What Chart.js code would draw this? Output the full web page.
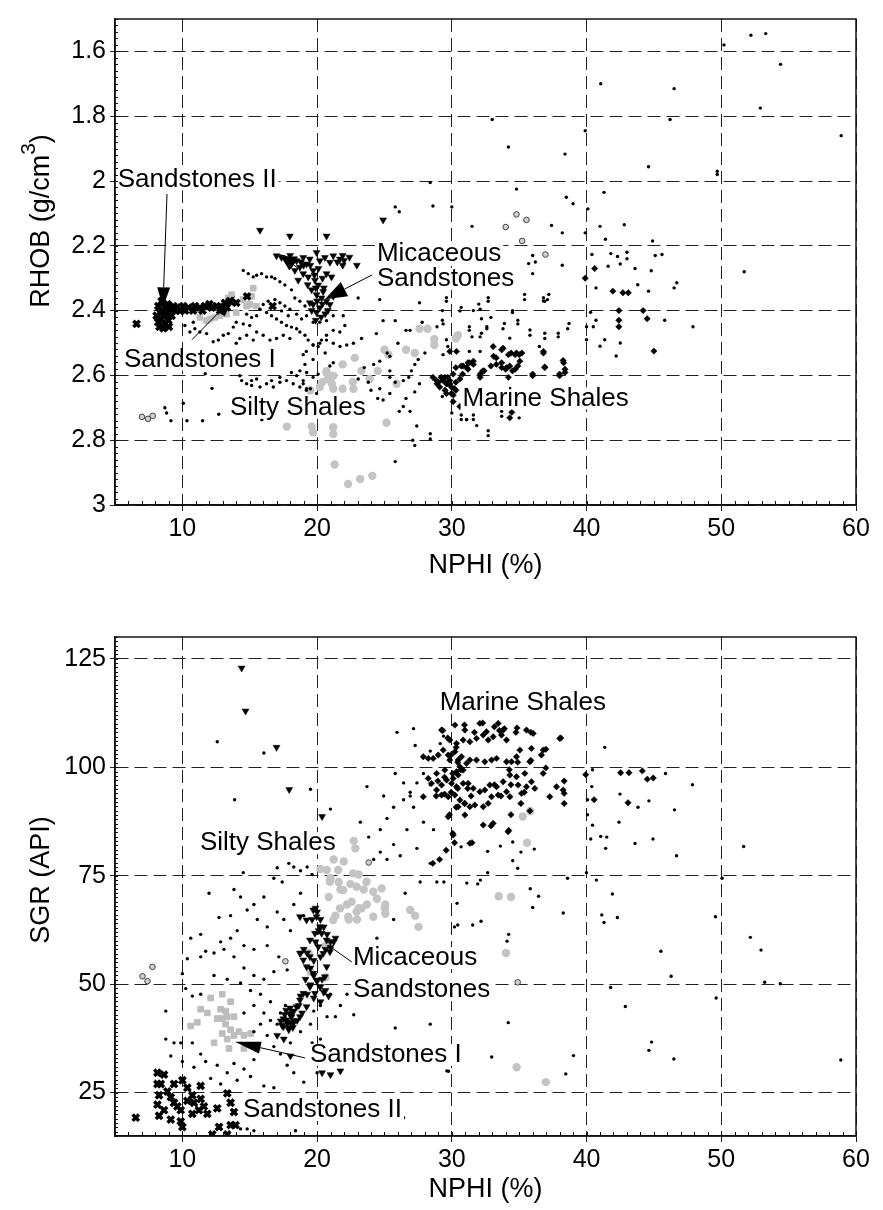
<!DOCTYPE html>
<html>
<head>
<meta charset="utf-8">
<script src="https://cdn.jsdelivr.net/npm/chart.js@4.4.0/dist/chart.umd.min.js"></script>
<style>
html, body { margin: 0; padding: 0; background: #fff; }
.wrap { position: absolute; left: 0; width: 883px; height: 600px; }
#w1 { top: 0; }
#w2 { top: 610px; }
</style>
</head>
<body>
<div class="wrap" id="w1"><canvas id="c1" width="883" height="600"></canvas></div>
<div class="wrap" id="w2"><canvas id="c2" width="883" height="600"></canvas></div>
<script>
// ---- axis ticks ----
const xTickVals = [10, 20, 30, 40, 50, 60];
const rhobTickVals = [1.6, 1.8, 2, 2.2, 2.4, 2.6, 2.8, 3];
const sgrTickVals = [25, 50, 75, 100, 125];

// ---- top panel: NPHI (%) vs RHOB (g/cm3) ----
const topDots = [
  [50.2,1.58],[52.2,1.55],[53.3,1.545],[54.4,1.64],[52.9,1.775],[58.9,1.86],[41.05,1.70],[46.5,1.715],[46.2,1.81],[33.0,1.81],
  [34.2,1.895],[39.9,1.845],[38.4,1.917],[44.6,1.956],[49.7,1.97],[49.7,1.98],[34.8,2.025],[38.5,2.05],[39.0,2.07],[40.1,2.086],
  [41.3,2.035],[30.0,2.08],[28.6,2.077],[28.4,2.005],[25.8,2.08],[26.1,2.095],[31.5,2.14],[37.4,2.137],[38.2,2.16],[39.9,2.16],
  [41.0,2.14],[42.8,2.135],[41.4,2.18],[44.9,2.185],[40.4,2.227],[41.8,2.224],[42.3,2.233],[43.0,2.22],[45.1,2.23],[45.6,2.227],
  [43.0,2.24],[42.5,2.256],[41.6,2.263],[43.6,2.27],[38.2,2.26],[44.8,2.277],[36.0,2.286],[35.7,2.255],[36.2,2.25],[36.0,2.23],
  [40.7,2.33],[44.6,2.34],[43.8,2.32],[46.7,2.314],[46.5,2.33],[51.7,2.28],[45.8,2.43],[47.9,2.45],[40.3,2.405],[40.7,2.43],
  [40.5,2.45],[40.0,2.45],[40.0,2.49],[41.0,2.51],[41.35,2.49],[42.2,2.54],[42.5,2.50],[38.7,2.44],[37.9,2.47],[36.9,2.47],
  [35.8,2.46],[34.9,2.43],[34.5,2.40],[35.4,2.35],[36.8,2.36],[37.2,2.35],[36.8,2.37],[33.9,2.44],[34.3,2.485],[32.7,2.36],
  [32.0,2.38],[30.7,2.39],[29.6,2.36],[31.6,2.40],[32.2,2.425],[32.6,2.45],[32.2,2.47],[31.3,2.45],[29.3,2.43],[29.3,2.40],
  [28.9,2.45],[29.6,2.49],[29.3,2.665],[30.0,2.716],[30.7,2.722],[31.1,2.737],[31.6,2.722],[31.85,2.755],[32.7,2.771],[33.7,2.711],
  [35.0,2.731],[23.05,2.361],[24.65,2.366],[27.6,2.376],[29.6,2.371],[32.7,2.371],[35.4,2.366],[36.9,2.371],[37.1,2.366],[30.6,2.401],
  [32.1,2.396],[32.9,2.421],[34.5,2.406],[24.9,2.431],[25.8,2.431],[26.6,2.461],[26.9,2.461],[27.8,2.436],[29.35,2.441],[31.3,2.461],
  [31.5,2.481],[32.1,2.481],[32.6,2.456],[33.8,2.456],[34.9,2.441],[35.8,2.476],[36.9,2.486],[37.9,2.481],[38.6,2.456],[24.4,2.471],
  [23.3,2.486],[22.7,2.501],[22.2,2.506],[21.7,2.511],[21.2,2.501],[20.7,2.491],[20.2,2.501],[19.7,2.506],[19.2,2.526],[18.97,2.536],
  [29.7,2.511],[29.35,2.536],[30.3,2.526],[31.3,2.526],[32.1,2.526],[36.5,2.511],[28.0,2.531],[27.5,2.551],[27.25,2.566],[27.0,2.586],
  [26.8,2.606],[26.4,2.616],[25.4,2.586],[25.4,2.606],[25.8,2.621],[27.6,2.626],[27.25,2.651],[26.6,2.671],[26.4,2.696],[26.1,2.711],
  [26.9,2.711],[27.4,2.756],[28.4,2.796],[27.25,2.816],[31.1,2.736],[30.7,2.736],[31.6,2.736],[32.7,2.786],[33.7,2.726],[25.4,2.656],
  [24.9,2.676],[24.5,2.671],[24.65,2.641],[24.0,2.646],[23.8,2.621],[23.05,2.611],[23.5,2.576],[24.2,2.566],[24.65,2.556],[25.4,2.541],
  [25.2,2.531],[26.0,2.501],[20.95,2.571],[21.2,2.561],[19.1,2.566],[19.7,2.551],[20.6,2.531],[18.97,2.626],[19.5,2.641],[19.96,2.656],
  [19.2,2.646],[14.52,2.276],[14.89,2.286],[15.26,2.296],[15.51,2.291],[15.88,2.286],[16.25,2.296],[16.62,2.296],[16.87,2.301],[17.24,2.311],
  [17.61,2.321],[18.1,2.336],[18.35,2.361],[18.72,2.371],[19.1,2.386],[19.22,2.416],[18.85,2.426],[18.48,2.411],[17.98,2.396],[17.61,2.386],
  [17.24,2.376],[16.87,2.366],[16.37,2.371],[16.0,2.381],[15.76,2.396],[16.25,2.406],[16.62,2.416],[16.99,2.426],[17.36,2.436],[17.73,2.446],
  [18.1,2.451],[18.48,2.456],[18.72,2.466],[19.1,2.476],[19.34,2.491],[19.71,2.506],[20.08,2.511],[20.33,2.491],[20.7,2.476],[21.2,2.461],
  [21.69,2.466],[22.06,2.446],[20.2,2.436],[19.71,2.436],[20.7,2.431],[21.2,2.416],[21.94,2.416],[13.78,2.451],[13.41,2.471],[13.04,2.476],
  [12.67,2.491],[12.29,2.496],[11.8,2.471],[11.3,2.466],[10.93,2.456],[10.56,2.466],[10.19,2.446],[10.81,2.436],[14.0,2.436],[14.52,2.441],
  [15.0,2.446],[15.51,2.466],[16.0,2.476],[16.5,2.491],[16.99,2.486],[17.49,2.476],[17.98,2.486],[14.77,2.476],[15.26,2.491],[14.27,2.486],
  [14.0,2.501],[15.14,2.421],[15.51,2.416],[14.77,2.411],[17.36,2.401],[17.86,2.416],[14.4,2.616],[14.77,2.626],[15.14,2.631],[15.76,2.636],
  [16.25,2.626],[16.62,2.616],[17.24,2.606],[17.73,2.616],[18.23,2.626],[18.72,2.636],[19.22,2.641],[18.97,2.616],[18.48,2.601],[18.1,2.591],
  [17.24,2.621],[16.75,2.636],[15.51,2.611],[18.72,2.586],[19.22,2.591],[19.71,2.606],[20.08,2.596],[14.27,2.601],[15.14,2.616],[10.07,2.686],
  [8.83,2.716],[8.7,2.70],[9.15,2.74],[10.34,2.74],[11.5,2.74],[12.7,2.72],[12.2,2.64],[11.7,2.595],[15.9,2.737],[25.8,2.866],
  [27.1,2.80],[28.4,2.78]
];
const topSandII = [
  [8.21,2.386],[8.34,2.406],[8.46,2.426],[8.21,2.436],[8.71,2.391],[8.83,2.411],[9.08,2.396],[8.96,2.431],[9.33,2.386],[9.58,2.391],
  [9.82,2.401],[10.07,2.386],[10.44,2.391],[10.93,2.386],[11.3,2.391],[11.68,2.386],[12.17,2.391],[12.54,2.386],[13.16,2.376],[13.53,2.371],
  [14.0,2.376],[8.46,2.371],[8.09,2.416],[8.71,2.441],[9.2,2.416],[6.6,2.441],[14.8,2.356],[16.7,2.386],
  [8.5,2.40],[8.9,2.38],[9.5,2.40],[10.2,2.40],[10.8,2.40],[11.5,2.40],[12.0,2.38],[12.8,2.40],[13.3,2.39],[8.3,2.45],
  [8.6,2.455],[9.0,2.45]
];
const topSandI = [
  [12.05,2.426],[12.4,2.421],[12.79,2.416],[13.28,2.411],[13.16,2.386],[13.4,2.361],[13.65,2.351],[14.5,2.366],[14.77,2.386],[15.14,2.356],
  [15.26,2.331],[15.0,2.381],[15.5,2.386],[11.8,2.431],[11.3,2.421],[14.0,2.406]
];
const topMica = [
  [17.73,2.241],[18.1,2.256],[18.48,2.246],[18.72,2.266],[18.97,2.236],[19.22,2.256],[19.46,2.241],[19.71,2.276],[19.96,2.221],[20.2,2.246],
  [20.58,2.236],[20.95,2.251],[21.2,2.231],[21.69,2.241],[18.97,2.286],[19.34,2.296],[19.84,2.306],[20.08,2.321],[19.59,2.336],[19.96,2.351],
  [20.33,2.361],[20.7,2.371],[19.71,2.381],[20.2,2.391],[20.95,2.381],[19.96,2.406],[21.2,2.356],[20.45,2.341],[19.46,2.376],[18.6,2.306],
  [18.35,2.276],[20.7,2.286],[21.07,2.296],[17.36,2.236],[16.99,2.231],[15.76,2.152],[17.98,2.17],[20.7,2.17],[24.9,2.12],[22.95,2.26],
  [22.0,2.245],[22.4,2.235],[21.9,2.26],
  [18.0,2.23],[18.3,2.24],[18.8,2.25],[19.0,2.26],[19.5,2.26],[19.8,2.29],[20.1,2.27],[20.4,2.30],[19.3,2.32],[19.9,2.33],
  [20.5,2.33],[20.0,2.37],[20.4,2.38],[20.8,2.40],[19.6,2.40],[20.3,2.42],[20.6,2.41],[19.9,2.43],[21.5,2.25],[21.9,2.23]
];
const topSilty = [
  [27.6,2.456],[28.2,2.456],[30.3,2.486],[28.7,2.506],[27.25,2.531],[26.6,2.521],[25.3,2.536],[25.0,2.521],[22.8,2.546],[21.9,2.566],
  [23.3,2.586],[23.9,2.611],[24.5,2.586],[20.7,2.591],[21.2,2.601],[20.8,2.611],[20.2,2.636],[21.2,2.641],[21.9,2.641],[22.7,2.641],
  [19.5,2.646],[25.9,2.626],[25.15,2.746],[21.2,2.781],[19.7,2.776],[17.75,2.758],[19.6,2.758],[21.2,2.76],[21.3,2.875],[22.3,2.935],
  [23.2,2.92],[24.1,2.91],[28.7,2.488],[30.45,2.476],[20.4,2.62],[21.1,2.626],[22.65,2.62],[20.7,2.587]
];
const topMarine = [
  [28.6,2.606],[29.0,2.621],[29.35,2.616],[29.7,2.626],[29.97,2.636],[30.3,2.621],[30.6,2.611],[30.8,2.596],[31.2,2.581],[31.6,2.566],
  [31.3,2.561],[32.1,2.596],[32.4,2.586],[32.9,2.571],[33.3,2.566],[33.7,2.576],[34.0,2.581],[34.3,2.571],[34.9,2.571],[33.1,2.541],
  [33.7,2.521],[34.2,2.536],[34.7,2.536],[35.0,2.536],[36.8,2.531],[36.9,2.576],[38.3,2.561],[38.4,2.591],[38.0,2.601],[36.0,2.601],
  [34.5,2.586],[30.3,2.646],[29.6,2.656],[30.1,2.681],[30.6,2.696],[34.3,2.731],[29.7,2.606],[30.1,2.596],[30.3,2.576],[30.7,2.571],
  [31.1,2.576],[29.1,2.636],[29.5,2.646],[29.85,2.616],[28.9,2.626],[29.2,2.606],[30.2,2.641],[29.97,2.656],[29.6,2.626],
  [29.85,2.526],[30.35,2.526],[30.84,2.571],[31.2,2.561],[31.6,2.556],[32.1,2.606],[32.3,2.586],[33.07,2.511],[33.3,2.546],[33.8,2.516],
  [33.7,2.561],[34.06,2.576],[34.4,2.531],[34.8,2.531],[35.05,2.556],[34.7,2.581],[35.2,2.531],[36.8,2.526],[36.9,2.574],[38.26,2.554],
  [38.4,2.581],[38.0,2.596],[36.0,2.596],[34.2,2.606],[29.5,2.606],[29.85,2.626],[30.1,2.661],[28.86,2.616],
  [40.6,2.27],[39.9,2.30],[41.95,2.34],[42.7,2.345],[43.1,2.345],[42.4,2.40],[42.4,2.43],[42.4,2.45],[44.2,2.40],[44.5,2.425],
  [45.0,2.525],[34.45,2.714]
];
const topRings = [[7.0,2.728],[7.45,2.734],[7.8,2.725],[34.8,2.103],[35.54,2.12],[34.0,2.142],[36.95,2.227],[35.22,2.185]];

// ---- bottom panel: NPHI (%) vs SGR (API) ----
const botDots = [
  [12.59,105.86],[16.05,103.28],[13.88,92.5],[19.51,94.91],[20.99,90.34],[14.12,80.43],[14.52,75.69],[11.98,70.95],[12.72,65.34],[17.04,76.81],
  [17.9,77.84],[18.27,76.98],[18.77,76.12],[19.26,76.98],[19.63,75.26],[17.41,73.53],[16.79,74.4],[16.05,70.09],[15.31,68.36],[15.56,64.91],
  [16.3,63.19],[17.04,66.64],[17.53,64.91],[18.02,62.33],[18.27,68.36],[18.77,70.95],[19.01,65.78],[13.83,71.81],[14.32,70.09],[14.81,67.07],
  [13.58,65.78],[14.07,62.33],[14.57,58.88],[15.31,58.02],[16.3,58.88],[17.16,56.29],[17.78,53.28],[16.79,52.84],[16.05,51.12],[15.31,51.98],
  [14.57,53.71],[13.83,56.29],[13.09,58.02],[12.35,57.16],[11.73,57.59],[11.36,56.29],[12.84,59.74],[13.58,60.6],[10.62,60.6],[11.36,61.47],
  [10.37,55.86],[10.0,52.41],[10.25,48.97],[10.74,47.24],[11.36,47.67],[12.35,51.98],[13.33,51.12],[14.32,50.26],[15.06,48.53],[15.8,47.67],
  [16.54,45.95],[15.31,45.09],[14.57,43.36],[16.05,43.36],[16.54,41.64],[17.04,40.78],[17.28,43.36],[17.65,45.09],[15.8,40.78],[15.31,39.05],
  [16.3,38.19],[16.79,35.6],[17.28,33.88],[17.78,31.29],[18.27,29.57],[18.02,36.47],[15.31,32.59],[14.57,30.43],[13.83,31.72],[13.33,29.57],
  [12.59,31.29],[11.73,32.16],[11.36,33.88],[10.74,36.47],[9.88,36.47],[9.38,36.47],[8.77,37.33],[9.14,33.45],[10.0,32.16],[10.86,30.86],
  [12.1,28.28],[12.84,26.98],[14.07,27.84],[15.06,28.71],[16.05,26.55],[16.79,26.12],[19.01,27.41],[20.0,29.57],[21.36,42.5],[22.72,42.93],
  [24.44,60.6],[25.68,64.91],[25.8,39.91],[28.4,40.78],[29.63,30.0],[26.42,19.22],[18.4,16.21],[22.22,47.67],[20.99,47.67],[21.73,45.09],
  [20.25,45.09],[20.74,42.5],[19.75,43.79],[19.51,40.78],[18.77,39.05],[19.63,36.47],[20.25,37.33],[14.81,16.64],[15.31,16.21],[14.32,16.64],
  [8.77,43.79],[23.21,87.33],[23.83,83.88],[24.69,85.6],[25.19,88.19],[25.68,90.78],[26.42,92.5],[26.91,94.22],[27.41,96.38],[27.9,98.53],
  [28.4,95.95],[27.16,90.78],[27.9,87.33],[28.64,85.6],[26.67,85.6],[25.68,82.16],[24.69,80.43],[24.2,78.71],[25.19,78.71],[26.17,79.57],
  [27.41,81.29],[28.4,77.84],[28.89,73.53],[26.54,70.95],[27.65,73.53],[25.93,108.02],[27.16,108.88],[27.28,105.0],[23.7,95.52],[24.94,93.36],
  [25.8,98.53],[26.42,96.38],[26.91,93.36],[28.4,103.71],[29.14,105.43],[29.38,107.16],
  [41.35,104.57],[40.44,99.4],[40.39,95.52],[40.07,92.5],[40.07,89.05],[40.44,86.64],[40.31,83.45],[41.05,84.05],[41.5,83.88],[41.42,81.29],
  [42.41,87.33],[42.48,93.79],[43.6,82.41],[43.82,90.78],[44.63,92.24],[44.93,83.45],[45.86,98.53],[46.53,90.17],[46.68,79.57],[47.86,95.95],
  [51.66,81.72],[39.99,75.69],[40.73,73.97],[41.92,70.78],[42.29,65.34],[41.13,65.95],[41.3,64.22],[38.59,74.4],[38.27,66.38],[36.0,67.67],
  [36.44,70.26],[35.82,71.98],[49.57,65.52],[52.16,60.78],[52.95,57.84],[53.22,50.43],[54.38,50.09],[49.62,46.81],[45.52,57.59],[46.28,51.81],
  [41.79,49.22],[42.88,44.83],[44.63,34.74],[44.83,36.64],[46.48,32.76],[58.87,32.5],[50.06,74.4],[38.46,29.31],[39.03,33.53],[32.96,33.19],
  [29.75,29.91],[34.19,41.12],[34.22,61.47],[34.1,59.91],[29.41,73.53],[31.11,73.28],[31.92,73.1],[32.12,73.97],[32.66,75.69],[32.17,64.48],
  [31.55,63.62],[30.39,68.62],[30.2,63.19],[30.44,63.62],[30.69,81.64],[32.66,80.6],[33.6,81.81],[34.52,82.76],[35.13,80.43],[36.12,81.12],
  [34.52,78.45],[34.89,76.72]
];
const botSandII = [
  [8.15,29.57],[8.4,26.98],[8.27,24.4],[8.15,22.24],[8.64,20.95],[8.27,19.66],[9.14,18.79],[9.88,18.36],[10.0,17.07],[9.88,20.95],
  [9.38,22.67],[8.89,25.26],[9.38,26.98],[10.0,27.84],[10.37,26.12],[10.74,24.4],[10.86,22.67],[11.23,20.95],[10.74,20.09],[11.6,21.81],
  [11.85,20.09],[11.36,26.55],[12.22,15.34],[12.59,21.38],[12.72,17.07],[13.33,24.83],[13.58,22.67],[13.83,20.52],[13.58,17.5],[13.33,15.34],
  [13.95,17.5],[6.54,19.22],[8.64,29.14],[8.15,26.98],[9.14,23.97],[10.37,23.1],[9.63,21.81],[11.36,23.53]
];
const botSandI = [
  [10.62,40.34],[11.36,44.22],[12.1,46.81],[12.96,47.67],[12.84,44.22],[12.96,42.07],[13.21,40.78],[13.58,39.48],[13.33,37.33],[13.83,38.19],
  [14.2,39.05],[14.57,38.19],[15.06,38.62],[15.56,35.17],[14.57,35.17],[13.46,35.17],[12.35,36.47],[12.96,38.62],[12.59,42.07],[13.83,42.5],
  [11.85,43.36],[11.11,41.21],[13.33,42.5],[13.58,45.95],[13.21,43.79]
];
const botMica = [
  [20.0,66.64],[20.25,64.91],[20.49,63.19],[20.74,61.47],[20.99,59.74],[20.62,58.02],[20.25,56.29],[19.75,55.43],[19.51,53.71],[19.75,51.98],
  [20.0,50.69],[20.25,49.4],[20.49,48.1],[19.26,57.16],[19.01,58.02],[19.88,59.74],[20.12,62.33],[19.63,64.91],[19.88,67.5],[20.99,58.45],
  [21.23,59.74],[20.37,51.12],[20.62,48.53],[19.51,49.83],[19.14,51.12],[18.77,47.24],[18.64,45.09],[18.27,43.79],[18.02,41.21],[17.9,39.91],
  [18.52,41.64],[18.89,43.36],[19.75,46.81],[20.25,45.95],[20.86,47.24],[18.02,33.45],[20.99,29.14],[21.73,30.0],[20.37,29.57],[17.04,38.19],
  [17.53,37.33],[19.26,47.67],[18.77,57.16],[21.36,60.6],[14.4,122.84],[14.69,112.93],[16.99,104.57],[17.93,94.83],[20.37,88.62],
  [17.5,42],[17.8,41],[18.0,43],[17.7,44],[18.2,40],[17.4,40.5],[18.1,42.5],[17.9,39.5],[17.6,43],[18.3,41.5],[17.3,41.5],[18.0,44.5],
  [18.73,65.54],[19.22,64.77],[19.72,67.07],[19.96,65.54],[20.21,63.23],[19.84,61.7],[19.47,60.16],[20.09,58.62],[20.46,57.09],[20.95,57.47],
  [20.71,60.16],[20.34,61.7],[19.47,56.32],[18.98,55.55],[19.22,54.02],[19.72,52.48],[19.96,50.94],[19.47,49.41],[18.98,47.87],[18.73,46.33],
  [18.48,44.8],[17.99,43.26],[17.74,41.73],[17.49,40.19],[18.23,40.96],[18.73,42.5],[19.22,44.8],[19.84,47.87],[20.21,49.41],[20.58,51.71],
  [20.71,54.02],[18.73,57.09]
];
const botSilty = [
  [22.72,83.02],[22.84,81.29],[21.23,78.71],[21.98,78.28],[20.25,76.55],[20.99,74.4],[21.6,73.53],[22.47,73.1],[23.09,75.26],[23.46,71.81],
  [21.73,71.81],[20.86,70.09],[22.22,68.36],[23.09,67.5],[23.7,68.36],[24.44,69.66],[25.06,68.36],[22.96,64.91],[22.35,64.91],[21.36,65.78],
  [25.06,66.21],[26.91,67.07],[27.28,65.78],[27.53,63.19],[19.38,57.16],[19.51,52.84],[20.62,51.55],[20.62,58.88],[20.71,76.29],[21.57,76.29],
  [22.68,75.52],[20.95,73.6],[21.94,71.68],[22.93,72.45],[23.67,73.6],[24.17,71.3],[24.79,72.06],[22.56,69.0],[23.3,67.46],[25.03,67.46],
  [21.7,67.46],[21.2,64.77],[22.31,65.54],[22.93,66.69],[24.17,65.54],[35.26,88.62],[35.82,89.91],[35.58,82.59],[33.48,70.26],[34.39,70.09],
  [34.02,57.16],[34.81,30.86],[36.98,27.41]
];
const botMarine = [
  [29.24,108.55],[30.23,109.7],[30.97,108.55],[32.08,110.09],[32.57,108.17],[33.44,110.09],[33.81,108.55],[34.06,106.25],[33.69,107.4],[33.07,107.01],
  [32.7,106.25],[32.33,107.4],[31.83,106.63],[31.34,105.86],[30.84,106.25],[30.35,105.48],[29.85,106.25],[29.36,103.94],[29.73,102.79],[30.23,103.56],
  [30.47,101.64],[30.72,102.41],[31.09,100.87],[30.6,100.1],[30.35,98.95],[30.1,97.41],[30.47,98.18],[30.84,99.33],[31.34,101.64],[31.83,101.64],
  [32.45,101.25],[32.95,101.64],[33.32,102.02],[34.06,101.25],[34.43,101.25],[34.8,102.41],[35.05,103.94],[35.54,108.55],[36.04,107.78],[36.65,102.79],
  [36.78,103.94],[35.79,101.25],[35.42,98.57],[34.8,97.8],[34.31,98.18],[33.81,96.65],[33.32,95.49],[32.82,95.88],[32.45,94.73],[32.08,94.34],
  [31.59,95.11],[31.21,96.26],[30.84,96.26],[30.35,95.49],[29.98,96.26],[29.61,97.03],[29.24,95.88],[28.87,94.73],[29.24,93.57],[29.73,93.19],
  [30.23,93.57],[30.6,92.42],[30.97,91.65],[31.34,90.89],[31.71,91.27],[32.33,90.89],[32.7,91.65],[32.95,93.19],[33.44,93.57],[34.06,94.34],
  [34.31,93.19],[34.92,95.88],[35.17,93.96],[35.54,95.49],[35.91,96.65],[36.16,95.11],[36.78,98.57],[37.27,93.19],[37.77,95.49],[38.26,94.73],
  [38.01,106.63],[35.91,104.33],[27.88,102.41],[28.25,102.02],[28.62,102.02],[28.99,102.79],[29.85,101.64],[29.48,99.33],[28.87,98.57],[28.25,97.41],
  [28.49,96.26],[29.73,88.58],[30.1,84.36],[31.34,82.44],[33.07,87.05],[34.18,85.13],[32.33,86.66],[30.47,90.89],[30.97,88.97],[27.88,93.19],
  [38.09,106.72],[36.98,104.14],[38.34,96.81],[38.34,93.97],[38.34,91.64],[36.98,99.83],[39.94,98.28],[40.56,92.5],[42.53,98.71],[43.15,98.71],
  [44.14,99.14],[44.51,97.24],[44.95,97.5],[43.08,91.81],[35.87,101.55],[35.8,89.91],[34.22,85.43],[31.5,82.59],[34.39,89.05],[35.13,91.64],
  [35.38,94.22],[34.39,95.95],[33.65,93.36],[33.16,95.95],[32.91,86.47],[34.27,99.4],[34.89,101.12],[35.87,108.02],[34.76,108.02],[34.84,109.05],
  [33.9,108.88],[33.53,108.45],[33.16,109.31],[32.29,110.17],[31.68,108.02],[30.94,109.74],[29.33,108.45],[29.7,106.72],[30.32,104.57],[29.95,102.84],
  [30.44,101.12],[30.69,99.4],[30.07,98.53],[29.46,97.67],[28.96,96.81],[28.84,93.36],[29.46,93.79],[29.95,94.22],[30.44,95.09],[31.18,95.09],
  [31.43,93.36],[30.94,91.64],[30.32,90.78],[29.83,89.05],[30.07,84.74],[30.2,82.59],[29.58,80.86],[29.09,78.71],[28.59,77.84]
];
const botRings = [[7.04,51.81],[7.41,50.69],[7.78,53.97],[23.83,78.02],[17.65,55.26],[34.89,50.43]];

// ---- annotations, in data units: [text, x, y] and [fromX, fromY, toX, toY, headLength, headWidth] ----
const topLabels = [
  ['Sandstones II', 5.2, 1.995], ['Micaceous', 24.44, 2.224], ['Sandstones', 24.44, 2.302],
  ['Sandstones I', 5.67, 2.551], ['Silty Shales', 13.53, 2.70], ['Marine Shales', 30.8, 2.671]
];
const topArrows = [
  [8.86, 2.04, 8.56, 2.39, 20, 13], [24.07, 2.29, 20.58, 2.365, 22, 16],
  [10.71, 2.49, 13.9, 2.355, 22, 14], [18.6, 2.27, 17.2, 2.225, 18, 14]
];
const botLabels = [
  ['Marine Shales', 29.1, 114.8], ['Silty Shales', 11.3, 82.5], ['Micaceous', 22.66, 56.0],
  ['Sandstones', 22.66, 48.6], ['Sandstones I', 19.47, 33.7], ['Sandstones II', 14.5, 21.0]
];
const botArrows = [[22.58, 55.1, 20.8, 59.0, 6, 4], [19.1, 33.0, 13.9, 36.7, 26, 12]];

const FONT = '"Liberation Sans", Arial, Helvetica, sans-serif';
Chart.defaults.font.family = FONT;
Chart.defaults.color = '#000';

const styles = {
  sandII: { pointStyle: 'crossRot', pointRadius: 4.5, pointBorderColor: '#000', pointBorderWidth: 3.5 },
  mica:   { pointStyle: 'triangle', pointRotation: 180, pointRadius: 4, pointBackgroundColor: '#000', pointBorderColor: '#000', pointBorderWidth: 0.5 },
  marine: { pointStyle: 'rectRot', pointRadius: 3.2, pointBackgroundColor: '#000', pointBorderColor: '#000', pointBorderWidth: 0.5 },
  dots:   { pointStyle: 'circle', pointRadius: 1.7, pointBackgroundColor: '#000', pointBorderWidth: 0 },
  rings:  { pointStyle: 'circle', pointRadius: 2.8, pointBackgroundColor: '#d0d0d0', pointBorderColor: '#444', pointBorderWidth: 1 },
  sandI:  { pointStyle: 'rect', pointRadius: 4, pointBackgroundColor: '#bdbdbd', pointBorderColor: '#bdbdbd', pointBorderWidth: 1 },
  silty:  { pointStyle: 'circle', pointRadius: 4.2, pointBackgroundColor: '#c4c4c4', pointBorderWidth: 0 }
};

function ds(data, style) {
  return Object.assign({ data: data.map(p => ({ x: p[0], y: p[1] })), showLine: false }, style);
}

// frame, minor ticks and axis titles
const framePlugin = {
  id: 'frame',
  afterDraw(chart, args, o) {
    const { ctx, chartArea: a, scales: { x, y } } = chart;
    ctx.save();
    ctx.strokeStyle = '#111';
    ctx.lineWidth = 1;
    ctx.beginPath();
    let n = Math.round((x.max - x.min) / o.xMinor);
    for (let i = 0; i <= n; i++) {
      const px = Math.round(x.getPixelForValue(x.min + i * o.xMinor)) + 0.5;
      ctx.moveTo(px, a.bottom); ctx.lineTo(px, a.bottom - 4);
    }
    n = Math.round((y.max - y.min) / o.yMinor);
    for (let i = 0; i <= n; i++) {
      const py = Math.round(y.getPixelForValue(y.min + i * o.yMinor)) + 0.5;
      ctx.moveTo(a.left, py); ctx.lineTo(a.left + 3, py);
    }
    ctx.stroke();
    ctx.lineWidth = 1.5;
    ctx.strokeRect(a.left, a.top, a.right - a.left, a.bottom - a.top);

    ctx.fillStyle = '#000';
    ctx.font = `27px ${FONT}`;
    ctx.textAlign = 'center';
    ctx.textBaseline = 'middle';
    ctx.fillText(o.xTitle, (a.left + a.right) / 2, a.bottom + o.xTitleGap);

    ctx.translate(o.yTitleX, o.yTitleY);
    ctx.rotate(-Math.PI / 2);
    ctx.textAlign = 'left';
    const parts = o.yTitle;
    let total = 0;
    parts.forEach(p => { ctx.font = `${p[1] ? 21 : 27}px ${FONT}`; total += ctx.measureText(p[0]).width; });
    let cx = -total / 2;
    parts.forEach(p => {
      ctx.font = `${p[1] ? 21 : 27}px ${FONT}`;
      ctx.fillText(p[0], cx, p[1] ? -13 : 0);
      cx += ctx.measureText(p[0]).width;
    });
    ctx.restore();
  }
};

const annotPlugin = {
  id: 'annot',
  afterDatasetsDraw(chart, args, o) {
    const { ctx, scales: { x, y } } = chart;
    ctx.save();
    ctx.font = `26px ${FONT}`;
    ctx.textBaseline = 'middle';
    ctx.textAlign = 'left';
    o.labels.forEach(l => {
      const px = x.getPixelForValue(l[1]), py = y.getPixelForValue(l[2]);
      const w = ctx.measureText(l[0]).width;
      ctx.fillStyle = '#fff';
      ctx.fillRect(px - 2, py - 11, w + 4, 22);
      ctx.fillStyle = '#000';
      ctx.fillText(l[0], px, py);
    });
    ctx.strokeStyle = '#000';
    ctx.fillStyle = '#000';
    ctx.lineWidth = 1;
    o.arrows.forEach(r => {
      const x0 = x.getPixelForValue(r[0]), y0 = y.getPixelForValue(r[1]);
      const x1 = x.getPixelForValue(r[2]), y1 = y.getPixelForValue(r[3]);
      const ang = Math.atan2(y1 - y0, x1 - x0);
      const bx = x1 - r[4] * Math.cos(ang), by = y1 - r[4] * Math.sin(ang);
      ctx.beginPath(); ctx.moveTo(x0, y0); ctx.lineTo(bx, by); ctx.stroke();
      const hw = r[5] / 2;
      ctx.beginPath();
      ctx.moveTo(x1, y1);
      ctx.lineTo(bx + hw * Math.sin(ang), by - hw * Math.cos(ang));
      ctx.lineTo(bx - hw * Math.sin(ang), by + hw * Math.cos(ang));
      ctx.closePath();
      ctx.fill();
    });
    ctx.restore();
  }
};

function makeChart(id, sets, yOpts, extra) {
  return new Chart(document.getElementById(id), {
    type: 'scatter',
    data: { datasets: sets },
    options: {
      responsive: false,
      animation: false,
      events: [],
      layout: { padding: { left: 0, right: 27, top: extra.padTop, bottom: 0 } },
      plugins: {
        legend: { display: false },
        tooltip: { enabled: false },
        frame: extra.frame,
        annot: extra.annot
      },
      scales: {
        x: {
          type: 'linear', min: 5, max: 60,
          afterBuildTicks: s => { s.ticks = xTickVals.map(v => ({ value: v })); },
          afterFit: s => { s.height = extra.xHeight; },
          ticks: { font: { size: 25 }, color: '#000', padding: 3, maxRotation: 0, callback: v => String(v) },
          grid: { color: '#222', lineWidth: 1, drawTicks: true, tickLength: 6 },
          border: { display: true, color: '#111', width: 1.5, dash: [13, 6] }
        },
        y: Object.assign({
          type: 'linear',
          afterFit: s => { s.width = 115; },
          ticks: { font: { size: 25 }, color: '#000', padding: 4, callback: v => String(+v.toFixed(1)) },
          grid: { color: '#222', lineWidth: 1, drawTicks: true, tickLength: 5 },
          border: { display: true, color: '#111', width: 1.5, dash: [13, 6] }
        }, yOpts)
      }
    },
    plugins: [framePlugin, annotPlugin]
  });
}

makeChart('c1', [
  ds(topSandII, styles.sandII), ds(topMica, styles.mica), ds(topMarine, styles.marine), ds(topDots, styles.dots),
  ds(topRings, styles.rings), ds(topSandI, styles.sandI), ds(topSilty, styles.silty)
], {
  min: 1.5, max: 3, reverse: true,
  afterBuildTicks: s => { s.ticks = rhobTickVals.map(v => ({ value: v })); }
}, {
  padTop: 5, xHeight: 95,
  frame: { xMinor: 1, yMinor: 0.02, xTitle: 'NPHI (%)', xTitleGap: 61, yTitle: [['RHOB (g/cm', 0], ['3', 1], [')', 0]], yTitleX: 42, yTitleY: 221 },
  annot: { labels: topLabels, arrows: topArrows }
});

makeChart('c2', [
  ds(botSandII, styles.sandII), ds(botMica, styles.mica), ds(botMarine, styles.marine), ds(botDots, styles.dots),
  ds(botRings, styles.rings), ds(botSandI, styles.sandI), ds(botSilty, styles.silty)
], {
  min: 15, max: 130,
  afterBuildTicks: s => { s.ticks = sgrTickVals.map(v => ({ value: v })); }
}, {
  padTop: 27, xHeight: 74,
  frame: { xMinor: 1, yMinor: 1, xTitle: 'NPHI (%)', xTitleGap: 54, yTitle: [['SGR (API)', 0]], yTitleX: 42, yTitleY: 270 },
  annot: { labels: botLabels, arrows: botArrows }
});
</script>
</body>
</html>
